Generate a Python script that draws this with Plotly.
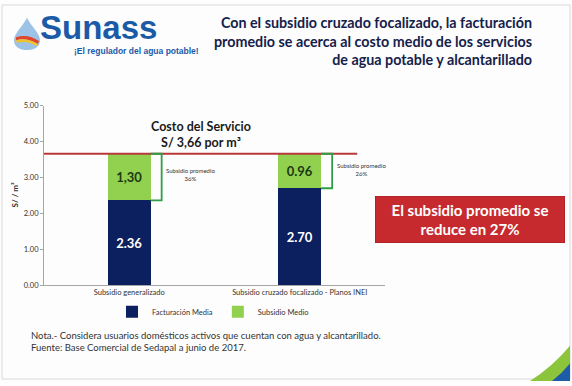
import plotly.graph_objects as go

W, H = 572, 386

categories = ["Subsidio generalizado", "Subsidio cruzado focalizado - Planos INEI"]
facturacion = [2.36, 2.70]
subsidio = [1.30, 0.96]
facturacion_labels = ["2.36", "2.70"]
subsidio_labels = ["1,30", "0.96"]
subsidio_pct = ["36%", "26%"]
costo = 3.66
y_ticks = [0, 1, 2, 3, 4, 5]

def px(x):
    return x / W

def py(y):
    return 1 - y / H

NAVY = "#0c1f5e"
GREEN = "#92d050"
FONT = "Lato"

fig = go.Figure()
fig.add_trace(go.Bar(
    x=categories, y=facturacion, name="Facturación Media",
    marker=dict(color=NAVY, line=dict(width=0)), width=0.25,
    text=facturacion_labels, textposition="inside", insidetextanchor="middle",
    textfont=dict(color="white", size=13, family=FONT, weight="bold"),
))
fig.add_trace(go.Bar(
    x=categories, y=subsidio, name="Subsidio Medio",
    marker=dict(color=GREEN, line=dict(width=0)), width=0.25,
    text=subsidio_labels, textposition="inside", insidetextanchor="middle",
    textfont=dict(color="#1c3a12", size=13, family=FONT, weight="bold"),
))

shapes = []
# cost line
shapes.append(dict(type="line", xref="x", yref="y", x0=-0.5, x1=1.337, y0=costo, y1=costo,
                   line=dict(color="#b8383a", width=2)))
# brackets
for i in range(2):
    xa = i + 0.125
    xb = i + 0.19
    y0 = facturacion[i]
    y1 = facturacion[i] + subsidio[i]
    shapes.append(dict(type="path", xref="x", yref="y",
                       path=f"M {xa},{y1} L {xb},{y1} L {xb},{y0} L {xa},{y0}",
                       line=dict(color="#2f9e44", width=1.8)))

# slide border
shapes.append(dict(type="rect", xref="paper", yref="paper",
                   x0=px(2), x1=px(570), y0=py(384), y1=py(1),
                   fillcolor="rgba(0,0,0,0)", line=dict(color="#d9d9d9", width=1), layer="below"))
# corner swoosh
shapes.append(dict(type="path", xref="paper", yref="paper",
                   path=f"M {px(530)},{py(386)} Q {px(552)},{py(372)} {px(570)},{py(350)} L {px(570)},{py(386)} Z",
                   fillcolor="#8cc43c", line=dict(width=0)))
shapes.append(dict(type="path", xref="paper", yref="paper",
                   path=f"M {px(552)},{py(386)} Q {px(562)},{py(378)} {px(570)},{py(368)} L {px(570)},{py(386)} Z",
                   fillcolor="#1d5ca8", line=dict(width=0)))
# logo drop
shapes.append(dict(type="path", xref="paper", yref="paper",
                   path=f"M {px(27)},{py(14)} C {px(22)},{py(24)} {px(14)},{py(30)} {px(14)},{py(37)} "
                        f"C {px(14)},{py(44)} {px(20)},{py(47)} {px(27)},{py(47)} "
                        f"C {px(34)},{py(47)} {px(40)},{py(44)} {px(40)},{py(37)} "
                        f"C {px(40)},{py(30)} {px(32)},{py(24)} {px(27)},{py(14)} Z",
                   fillcolor="#9cc3e6", line=dict(width=0)))
shapes.append(dict(type="path", xref="paper", yref="paper",
                   path=f"M {px(16)},{py(34)} Q {px(28)},{py(30)} {px(39)},{py(38)} L {px(38)},{py(41)} Q {px(27)},{py(34)} {px(16)},{py(37)} Z",
                   fillcolor="#e0452c", line=dict(width=0)))
shapes.append(dict(type="path", xref="paper", yref="paper",
                   path=f"M {px(16)},{py(37)} Q {px(27)},{py(34)} {px(38)},{py(41)} L {px(36)},{py(43)} Q {px(27)},{py(37)} {px(17)},{py(40)} Z",
                   fillcolor="#f2c12e", line=dict(width=0)))

annotations = []
# subsidy percentage notes
for i, pct in enumerate(subsidio_pct):
    annotations.append(dict(xref="x", yref="y", x=i + 0.36, y=facturacion[i] + subsidio[i] * 0.55,
                            xanchor="center", yanchor="middle",
                            text=f"Subsidio promedio<br>{pct}", showarrow=False,
                            font=dict(size=6, color="#333333", family=FONT), align="center"))
annotations.append(dict(xref="paper", yref="paper", x=px(201), y=py(134),
                        xanchor="center", yanchor="middle",
                        text="Costo del Servicio<br>S/ 3,66 por m³", showarrow=False,
                        font=dict(size=12.5, color="#1a1a1a", family=FONT, weight="bold"),
                        align="center"))
# red box with text
annotations.append(dict(xref="paper", yref="paper", x=px(470), y=py(220.5),
                        xanchor="center", yanchor="middle",
                        text="El subsidio promedio se<br>reduce en 27%", showarrow=False,
                        font=dict(size=15, color="white", family=FONT, weight="bold"),
                        align="center", valign="middle", bgcolor="#c62a2e",
                        bordercolor="#b02428", borderwidth=1, width=186, height=43))
# title
annotations.append(dict(xref="paper", yref="paper", x=px(534), y=py(38), xanchor="right",
                        yanchor="middle",
                        text="Con el subsidio cruzado focalizado, la facturación<br>"
                             "promedio se acerca al costo medio de los servicios<br>"
                             "de agua potable y alcantarillado",
                        showarrow=False, align="right",
                        font=dict(size=14.3, color="#15214a", family=FONT, weight="bold")))
# logo text
annotations.append(dict(xref="paper", yref="paper", x=px(38), y=py(24), xanchor="left",
                        yanchor="middle",
                        text="Sunass", showarrow=False,
                        font=dict(size=33, color="#1b5aa6", family="Liberation Sans", weight="bold")))
annotations.append(dict(xref="paper", yref="paper", x=px(72), y=py(48), xanchor="left",
                        yanchor="middle",
                        text="¡El regulador del agua potable!", showarrow=False,
                        font=dict(size=8.5, color="#1b5aa6", family="Liberation Sans", weight="bold")))
# y title
annotations.append(dict(xref="paper", yref="paper", x=px(15), y=py(196),
                        xanchor="center", yanchor="middle",
                        text="S/ / m³", textangle=-90, showarrow=False,
                        font=dict(size=8, color="#333333", family=FONT, weight="bold")))
# notes
annotations.append(dict(xref="paper", yref="paper", x=px(29), y=py(346), xanchor="left",
                        yanchor="middle",
                        text="Nota.- Considera usuarios domésticos activos que cuentan con agua y alcantarillado.<br>"
                             "Fuente: Base Comercial de Sedapal a junio de 2017.",
                        showarrow=False, align="left",
                        font=dict(size=9.5, color="#333333", family=FONT)))

fig.update_layout(
    width=W, height=H,
    margin=dict(l=0, r=0, t=0, b=0),
    paper_bgcolor="#fdfdfd", plot_bgcolor="#fdfdfd",
    barmode="stack", bargap=0.75,
    shapes=shapes, annotations=annotations,
    showlegend=True,
    legend=dict(orientation="h", x=px(213), y=py(315), xanchor="center", yanchor="middle",
                font=dict(size=7.5, color="#333333", family=FONT), bgcolor="rgba(0,0,0,0)",
                traceorder="normal", itemwidth=30),
    xaxis=dict(domain=[px(44), px(385)], range=[-0.5, 1.5], showline=True, linecolor="#a6a6a6",
               linewidth=1, ticks="", tickfont=dict(size=7.5, color="#333333", family=FONT),
               showgrid=False, fixedrange=True),
    yaxis=dict(domain=[py(288), py(104)], range=[0, 5], tickvals=y_ticks, tickformat=".2f",
               showline=True, linecolor="#a6a6a6", linewidth=1, ticks="outside", ticklen=3,
               tickcolor="#a6a6a6", tickfont=dict(size=7.5, color="#333333", family=FONT),
               showgrid=False, zeroline=False, fixedrange=True),
)

fig.write_html("out.html", config={"displayModeBar": False},
               post_script="document.body.style.margin='0';")
